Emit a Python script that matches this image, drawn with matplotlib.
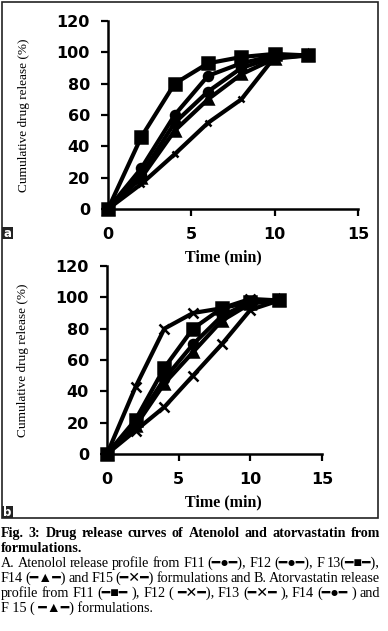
import matplotlib
matplotlib.use("Agg")
import matplotlib.pyplot as plt
from matplotlib.patches import Rectangle

# time points (min)
t = [0, 2, 4, 6, 8, 10, 12]

# A: atenolol formulations
a_f11 = [0, 26, 60, 85, 93, 98, 98]
a_f12 = [0, 22, 55, 75, 90, 97, 98]
a_f13 = [0, 46, 80, 93, 97, 99, 98]
a_f14 = [0, 20, 50, 70, 86, 96, 98]
a_f15 = [0, 16, 35, 55, 70, 97, 98]

# B: atorvastatin formulations
b_f11 = [0, 22, 55, 80, 93, 97, 98]
b_f12 = [0, 43, 80, 90, 93, 99, 98]
b_f13 = [0, 15, 30, 50, 70, 92, 98]
b_f14 = [0, 20, 48, 70, 88, 97, 98]
b_f15 = [0, 18, 45, 65, 85, 96, 98]

yticks = [0, 20, 40, 60, 80, 100, 120]
xticks = [0, 5, 10, 15]

W, H = 388, 631
fig = plt.figure(figsize=(W / 100, H / 100), dpi=100)

def px(x0, y0, x1, y1):
    # pixel box -> figure fraction rect
    return [x0 / W, 1 - y1 / H, (x1 - x0) / W, (y1 - y0) / H]

def style(ax):
    for s in ("top", "right"):
        ax.spines[s].set_visible(False)
    for s in ("left", "bottom"):
        ax.spines[s].set_linewidth(1.8)
    ax.set_xlim(0, 15)
    ax.set_ylim(0, 120)
    ax.set_xticks(xticks)
    ax.set_yticks(yticks)
    ax.tick_params(direction="out", length=5, width=1.6, pad=8)
    for lab in ax.get_xticklabels() + ax.get_yticklabels():
        lab.set_fontfamily("DejaVu Sans")
        lab.set_fontweight("bold")
        lab.set_fontsize(11.5)
    ax.set_ylabel("Cumulative drug release (%)", family="Liberation Serif",
                  fontsize=9.5, labelpad=19)

def curve(ax, y, m, ms=6.5):
    ax.plot(t, y, color="black", lw=3, marker=m, ms=ms, mfc="black",
            mec="black", mew=1.8, clip_on=False)

ax1 = fig.add_axes(px(108, 21, 358, 209))
style(ax1)
curve(ax1, a_f13, "s", 8)
curve(ax1, a_f11, "o")
curve(ax1, a_f12, "o")
curve(ax1, a_f14, "^", 7)
curve(ax1, a_f15, "x", 5)

ax2 = fig.add_axes(px(107, 266, 322, 454))
style(ax2)
curve(ax2, b_f12, "x", 6.5)
curve(ax2, b_f11, "s", 8)
curve(ax2, b_f14, "o")
curve(ax2, b_f15, "^", 7)
curve(ax2, b_f13, "x", 6.5)

fig.text(223 / W, 1 - 257 / H, "Time (min)", family="Liberation Serif",
         weight="bold", fontsize=11.5, ha="center", va="center")
fig.text(223 / W, 1 - 502 / H, "Time (min)", family="Liberation Serif",
         weight="bold", fontsize=11.5, ha="center", va="center")

# outer frame
fig.patches.append(Rectangle((2 / W, 1 - 518 / H), 376 / W, 516 / H,
                             transform=fig.transFigure, fill=False,
                             ec="#222222", lw=1.2))

# panel tags
for tag, ytop in (("a", 227), ("b", 506)):
    fig.patches.append(Rectangle((2 / W, 1 - (ytop + 12) / H), 11 / W, 12 / H,
                                 transform=fig.transFigure, fc="#222222",
                                 ec="none"))
    fig.text(7.5 / W, 1 - (ytop + 6.5) / H, tag, color="white", weight="bold",
             family="DejaVu Sans", fontsize=8.5, ha="center", va="center")

# caption
fam = ["Liberation Serif", "DejaVu Sans"]
cap = [
    ("Fig. 3: Drug release curves of Atenolol and atorvastatin from", "bold", True),
    ("formulations.", "bold", False),
    ("A. Atenolol release profile from F11 (\u2501\u25cf\u2501), F12 (\u2501\u25cf\u2501), F 13(\u2501\u25a0\u2501),", "normal", True),
    ("F14 (\u2501\u25b2\u2501) and F15 (\u2501\u2715\u2501) formulations and B. Atorvastatin release", "normal", True),
    ("profile from F11 (\u2501\u25a0\u2501 ), F12 ( \u2501\u2715\u2501), F13 (\u2501\u2715\u2501 ), F14 (\u2501\u25cf\u2501 ) and", "normal", True),
    ("F 15 ( \u2501\u25b2\u2501) formulations.", "normal", False),
]
x0, x1 = 1, 380
fs = 10.2
fig.canvas.draw()
r = fig.canvas.get_renderer()
for i, (line, wt, just) in enumerate(cap):
    yy = 1 - (537 + 15 * i) / H
    if not just:
        fig.text(x0 / W, yy, line, family=fam, weight=wt, fontsize=fs,
                 va="baseline", ha="left")
        continue
    words = line.split(" ")
    objs = [fig.text(0, yy, w, family=fam, weight=wt, fontsize=fs,
                     va="baseline", ha="left") for w in words if w]
    widths = [o.get_window_extent(r).width for o in objs]
    gap = (x1 - x0 - sum(widths)) / (len(objs) - 1)
    x = x0
    for o, w in zip(objs, widths):
        o.set_x(x / W)
        x += w + gap

fig.savefig("out.png", dpi=100, facecolor="white")
